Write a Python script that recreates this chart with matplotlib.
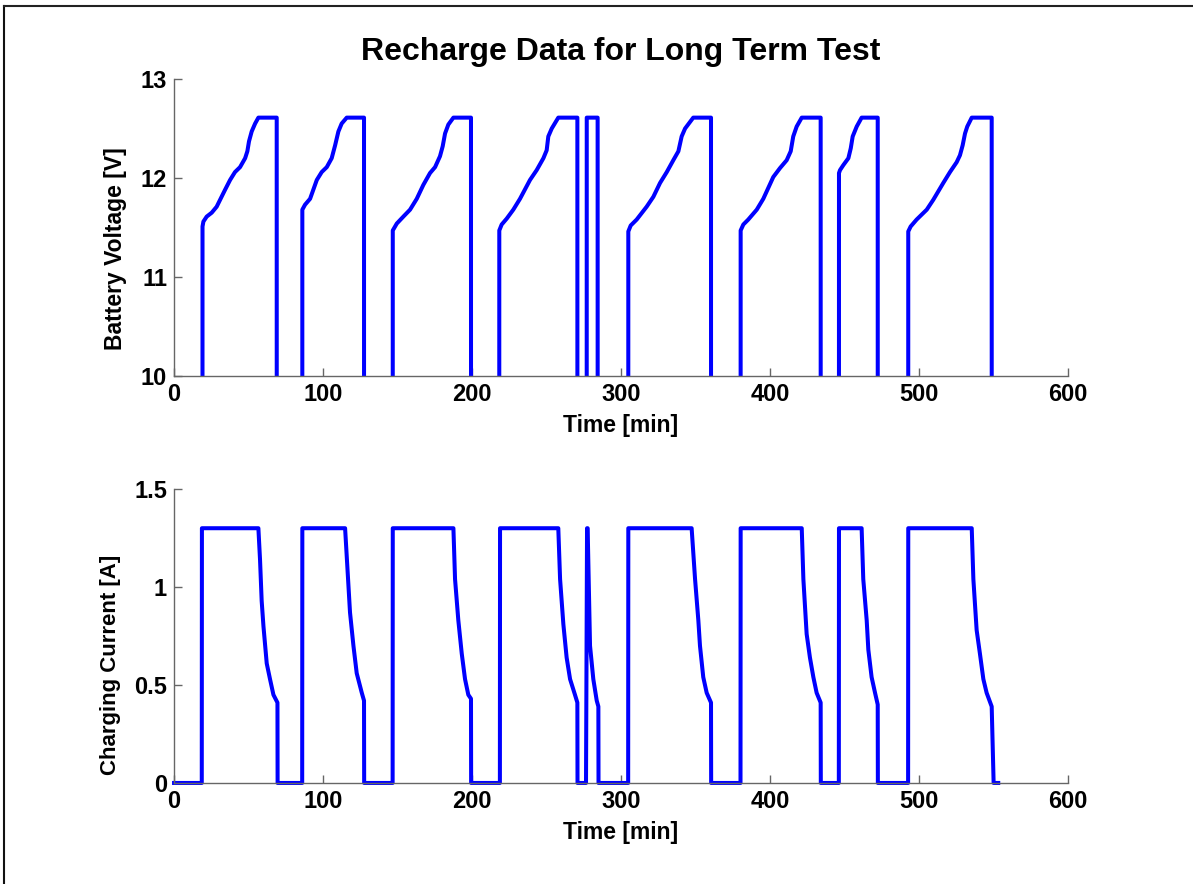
import numpy as np
import matplotlib.pyplot as plt
from matplotlib.lines import Line2D

plt.rcParams['font.family'] = ['Liberation Sans', 'DejaVu Sans']
plt.rcParams['font.weight'] = 'bold'

# Battery voltage [V] vs time [min] (0 = logger off, below the axis)
volt_t = [0, 19.0, 19.1, 19.7, 21.9, 25.3, 28.6, 30.9, 34.2, 37.6, 40.9, 44.3, 47.7,
          49.2, 50.3, 52.1, 54.4, 56.6, 68.9, 69.0,
          86.0, 86.1, 87.9, 91.3, 95.8, 99.1, 102.5, 105.8, 108.1, 110.3, 112.5,
          115.9, 127.5, 127.6,
          146.7, 146.8, 149.5, 153.9, 158.4, 162.9, 167.3, 171.8, 175.2, 178.5,
          180.3, 181.9, 184.1, 187.5, 199.3, 199.4,
          218.2, 218.3, 219.9, 223.3, 227.7, 232.2, 238.9, 243.4, 247.9, 250.1,
          251.2, 253.5, 257.9, 270.7, 270.8,
          276.9, 277.0, 284.3, 284.4,
          304.8, 304.9, 306.5, 310.5, 317.2, 321.7, 326.2, 330.7, 335.1, 338.5,
          340.7, 343.0, 348.5, 360.4, 360.5,
          380.2, 380.3, 382.1, 385.4, 391.1, 395.5, 402.2, 406.7, 411.2, 413.9,
          415.6, 417.9, 421.3, 434.0, 434.1,
          446.2, 446.3, 447.0, 449.2, 452.6, 454.2, 455.5, 458.2, 461.5, 472.3, 472.4,
          492.7, 492.8, 494.4, 498.4, 505.2, 509.6, 516.3, 520.8, 525.3, 527.5,
          529.3, 530.9, 532.4, 535.4, 548.8, 548.9,
          553.2]
volt_v = [0, 0, 11.51, 11.56, 11.61, 11.65, 11.71, 11.78, 11.88, 11.98, 12.06, 12.11, 12.20,
          12.27, 12.37, 12.47, 12.55, 12.61, 12.61, 0,
          0, 11.68, 11.73, 11.79, 11.98, 12.06, 12.11, 12.20, 12.33, 12.47, 12.55,
          12.61, 12.61, 0,
          0, 11.47, 11.54, 11.61, 11.68, 11.79, 11.93, 12.05, 12.11, 12.22,
          12.32, 12.45, 12.54, 12.61, 12.61, 0,
          0, 11.47, 11.53, 11.59, 11.68, 11.79, 11.98, 12.08, 12.20, 12.28,
          12.42, 12.50, 12.61, 12.61, 0,
          0, 12.61, 12.61, 0,
          0, 11.46, 11.52, 11.58, 11.71, 11.81, 11.95, 12.06, 12.18, 12.27,
          12.42, 12.50, 12.61, 12.61, 0,
          0, 11.47, 11.53, 11.58, 11.68, 11.79, 12.01, 12.10, 12.18, 12.27,
          12.42, 12.52, 12.61, 12.61, 0,
          0, 12.05, 12.08, 12.13, 12.20, 12.30, 12.42, 12.52, 12.61, 12.61, 0,
          0, 11.46, 11.51, 11.58, 11.68, 11.78, 11.95, 12.06, 12.16, 12.23,
          12.33, 12.45, 12.52, 12.61, 12.61, 0,
          0]

# Charging current [A] vs time [min]
cur_t = [0, 18.6, 18.7, 56.6, 57.7, 58.8, 60.0, 62.2, 64.4, 66.7, 69.4, 69.5,
         86.0, 86.1, 114.8, 118.1, 120.4, 122.6, 126.0, 127.5, 127.6,
         146.7, 146.8, 187.5, 188.6, 190.8, 193.1, 195.3, 197.5, 199.3, 199.4,
         218.7, 218.8, 257.9, 259.1, 261.3, 263.5, 265.8, 269.1, 270.7, 270.8,
         276.5, 277.2, 277.6, 279.2, 281.4, 283.7, 284.8, 284.9,
         304.8, 304.9, 347.4, 349.7, 351.9, 353.0, 355.2, 357.5, 360.4, 360.5,
         380.2, 380.3, 421.3, 422.4, 424.6, 426.8, 429.1, 431.3, 434.0, 434.1,
         446.2, 446.3, 461.5, 462.6, 464.9, 466.0, 468.2, 470.5, 472.3, 472.4,
         492.7, 492.8, 535.4, 536.5, 538.7, 540.9, 543.2, 545.4, 548.8, 550.1,
         553.2]
cur_i = [0, 0, 1.30, 1.30, 1.14, 0.93, 0.80, 0.61, 0.53, 0.45, 0.41, 0,
         0, 1.30, 1.30, 0.87, 0.70, 0.56, 0.46, 0.42, 0,
         0, 1.30, 1.30, 1.04, 0.83, 0.66, 0.53, 0.45, 0.43, 0,
         0, 1.30, 1.30, 1.04, 0.81, 0.64, 0.53, 0.45, 0.41, 0,
         0, 1.30, 1.30, 0.70, 0.53, 0.42, 0.39, 0,
         0, 1.30, 1.30, 1.04, 0.83, 0.70, 0.54, 0.46, 0.41, 0,
         0, 1.30, 1.30, 1.04, 0.76, 0.64, 0.54, 0.46, 0.41, 0,
         0, 1.30, 1.30, 1.04, 0.83, 0.68, 0.54, 0.46, 0.40, 0,
         0, 1.30, 1.30, 1.04, 0.78, 0.66, 0.53, 0.46, 0.39, 0,
         0]

x_ticks = [0, 100, 200, 300, 400, 500, 600]
v_ticks = [10, 11, 12, 13]
i_ticks = [0, 0.5, 1, 1.5]
i_labels = ['0', '0.5', '1', '1.5']

fig = plt.figure(figsize=(11.93, 8.84), dpi=100)
ax1 = fig.add_axes([0.1459, 0.5747, 0.7493, 0.3359])
ax2 = fig.add_axes([0.1459, 0.1143, 0.7493, 0.3325])

ax1.plot(volt_t, volt_v, color='#0000ff', lw=2.9, solid_joinstyle='round')
ax2.plot(cur_t, cur_i, color='#0000ff', lw=2.9, solid_joinstyle='round',
         clip_on=False)

for ax in (ax1, ax2):
    ax.set_xlim(0, 600)
    ax.set_xticks(x_ticks)
    ax.spines['top'].set_visible(False)
    ax.spines['right'].set_visible(False)
    for s in ('left', 'bottom'):
        ax.spines[s].set_color('#666666')
        ax.spines[s].set_linewidth(1.0)
    ax.tick_params(direction='in', length=6, width=1, color='#666666',
                   labelsize=17, pad=5)
    ax.set_xlabel('Time [min]', fontsize=16.5, fontweight='bold', labelpad=6)

ax1.set_ylim(10, 13)
ax1.set_yticks(v_ticks)
ax1.set_ylabel('Battery Voltage [V]', fontsize=16.5, fontweight='bold')
ax1.yaxis.set_label_coords(-0.053, 0.428)
ax1.set_title('Recharge Data for Long Term Test', fontsize=23,
              fontweight='bold', pad=14)

ax2.set_ylim(0, 1.5)
ax2.set_yticks(i_ticks)
ax2.set_yticklabels(i_labels)
ax2.set_ylabel('Charging Current [A]', fontsize=16, fontweight='bold')
ax2.yaxis.set_label_coords(-0.0595, 0.403)

# window frame edges at left and top
fig.add_artist(Line2D([0.0034, 0.0034], [0, 0.9932], color='#111111', lw=1.5))
fig.add_artist(Line2D([0.0034, 1], [0.9932, 0.9932], color='#222222', lw=1.5))

fig.savefig('out.png', dpi=100)
